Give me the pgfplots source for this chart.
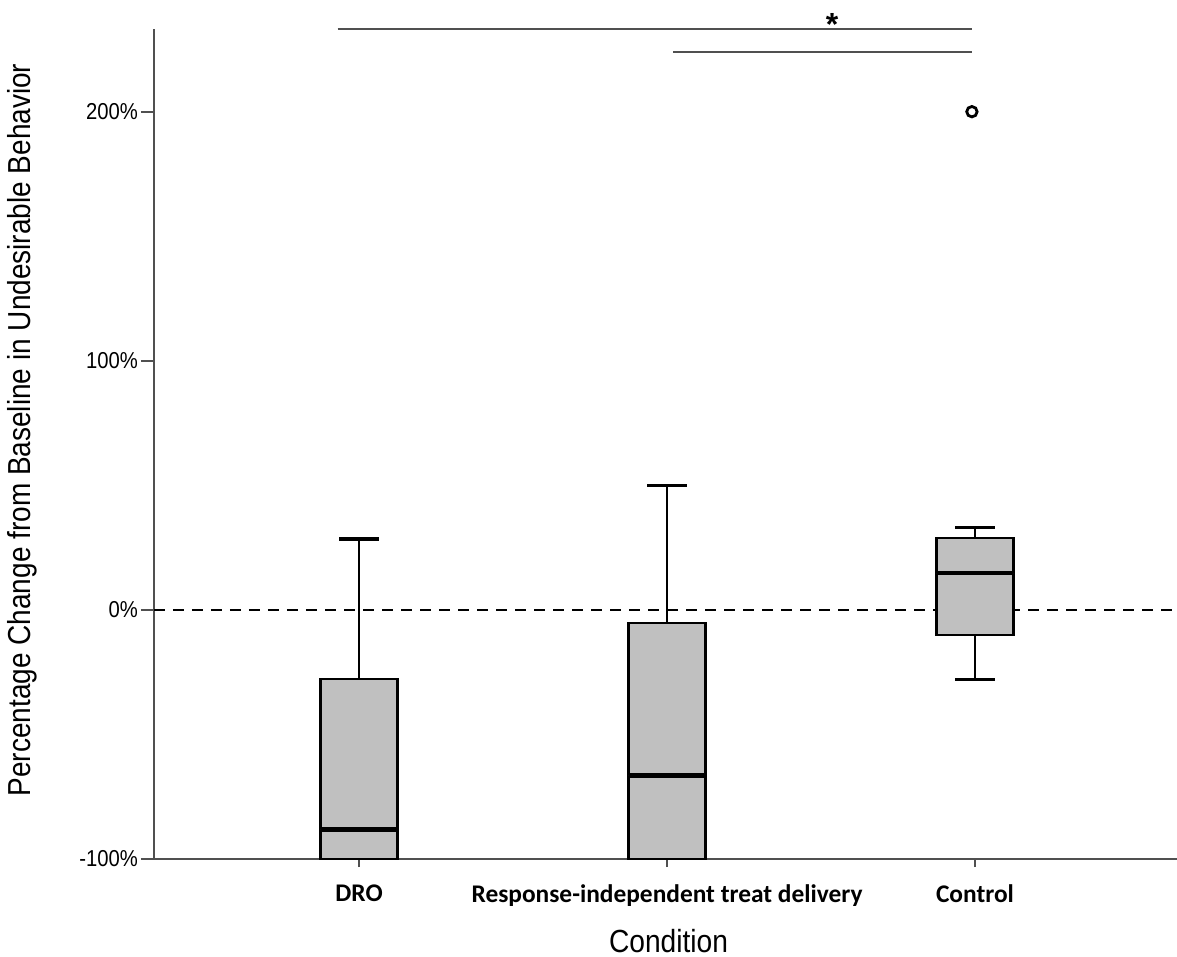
\documentclass[border=0pt]{standalone}
\usepackage{pgfplots}
\pgfplotsset{compat=1.18}
\usepgfplotslibrary{statistics}
\usepackage{fontspec}
\setmainfont{Liberation Sans}
\newfontfamily\arialn[FakeStretch=0.88]{Liberation Sans}
\newfontfamily\carlito{Carlito}
\definecolor{boxgray}{RGB}{192,192,192}
\definecolor{axgray}{RGB}{80,80,80}
\begin{document}
\begin{tikzpicture}[x=1pt,y=1pt]
\useasboundingbox (-77,-49) rectangle (511.5,429.5);
\begin{axis}[
  at={(0,0)}, anchor=south west,
  scale only axis, width=511.5pt, height=415pt,
  xmin=-0.666, xmax=2.656, ymin=-1, ymax=2.332,
  axis x line=bottom, axis y line=left,
  axis line style={-, axgray, line width=1pt},
  tick align=outside, major tick length=6.5pt,
  tick style={axgray, line width=1pt},
  xtick style={/pgfplots/major tick length=4pt},
  boxplot/draw direction=y,
  xtick={0,1,2},
  xticklabels={DRO, Response-independent treat delivery, Control},
  ytick={-1,0,1,2},
  yticklabels={-100\%,0\%,100\%,200\%},
  xticklabel style={font=\carlito\bfseries\fontsize{12.7}{14}\selectfont, yshift=-3pt},
  yticklabel style={font=\arialn\fontsize{11.5}{13}\selectfont, xshift=2pt},
  xlabel={Condition},
  xlabel style={font=\arialn\fontsize{16}{18}\selectfont, at={(axis description cs:0.503,-0.113)}, anchor=base},
  ylabel={Percentage Change from Baseline in Undesirable Behavior},
  ylabel style={font=\arialn\fontsize{15.9}{18}\selectfont, at={(axis description cs:-0.129,0.517)}, anchor=center},
  boxplot/box extend=0.25,
  boxplot/whisker extend=0,
  clip=false,
]
% zero reference line
\addplot[black, line width=1pt, dash pattern=on 5.5pt off 4pt] coordinates {(-0.666,0) (2.656,0)};
% boxes
\addplot[boxplot prepared={draw position=0, lower whisker=-1, lower quartile=-1, median=-0.882, upper quartile=-0.279, upper whisker=0.284},
  fill=boxgray, draw=black, line width=1.1pt, boxplot/every median/.style={line width=2.2pt}] coordinates {};
\addplot[boxplot prepared={draw position=1, lower whisker=-1, lower quartile=-1, median=-0.665, upper quartile=-0.054, upper whisker=0.50},
  fill=boxgray, draw=black, line width=1.1pt, boxplot/every median/.style={line width=2.2pt}] coordinates {};
\addplot[boxplot prepared={draw position=2, lower whisker=-0.28, lower quartile=-0.10, median=0.147, upper quartile=0.288, upper whisker=0.331},
  fill=boxgray, draw=black, line width=1.1pt, boxplot/every median/.style={line width=2.2pt}] coordinates {};
% whisker caps
\addplot[black, line width=1.7pt] coordinates {(-0.0645,0.284) (0.0645,0.284)};
\addplot[black, line width=1.7pt] coordinates {(0.9355,0.50) (1.0645,0.50)};
\addplot[black, line width=1.7pt] coordinates {(1.9355,0.331) (2.0645,0.331)};
\addplot[black, line width=1.7pt] coordinates {(1.9355,-0.28) (2.0645,-0.28)};
% outlier
\addplot[only marks, mark=o, mark size=2.6pt, line width=1.4pt, black] coordinates {(1.99,2.0)};
% significance lines
\addplot[axgray, line width=1pt] coordinates {(-0.07,2.332) (1.99,2.332)};
\addplot[axgray, line width=1pt] coordinates {(1.02,2.24) (1.99,2.24)};
\node[anchor=base, font=\bfseries\fontsize{16}{16}\selectfont] at (axis cs:1.536,2.307) {*};
\end{axis}
\end{tikzpicture}
\end{document}
